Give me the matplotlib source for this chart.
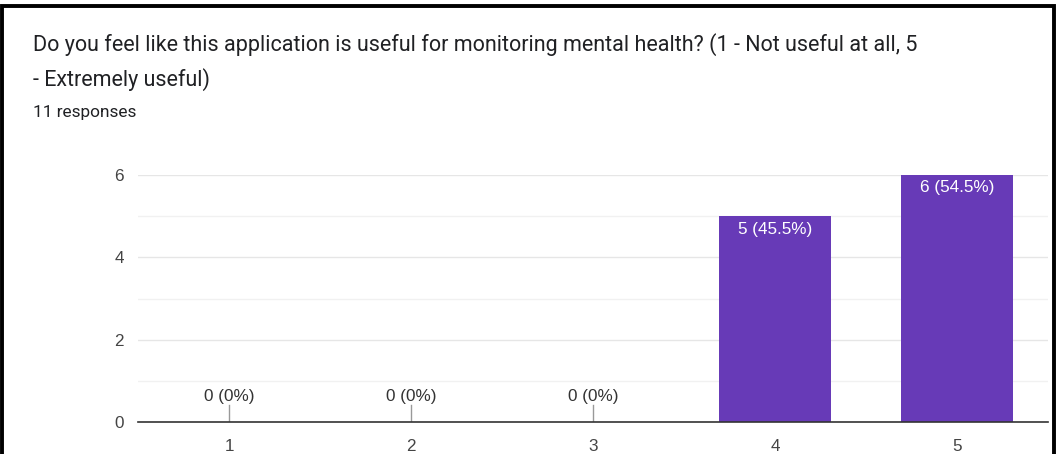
import matplotlib.pyplot as plt

plt.rcParams['font.family'] = ['Roboto', 'DejaVu Sans']

title = ("Do you feel like this application is useful for monitoring mental health? (1 - Not useful at all, 5\n"
         "- Extremely useful)")
subtitle = "11 responses"

ratings = ["1", "2", "3", "4", "5"]
counts = [0, 0, 0, 5, 6]
labels = ["0 (0%)", "0 (0%)", "0 (0%)", "5 (45.5%)", "6 (54.5%)"]

fig = plt.figure(figsize=(10.57, 4.54), dpi=100)
W, H = 1057, 454
chart_font = ['Liberation Sans', 'DejaVu Sans']

# outer frame
fig.patches.append(plt.Rectangle((2 / W, -0.01), (W - 5) / W, 1 - 1.5 / H,
                                 transform=fig.transFigure, fill=False,
                                 edgecolor='black', linewidth=2.8))

fig.text(33 / W, 1 - 45 / H, title.split("\n")[0], fontsize=15.5, color='#202124',
         va='center', ha='left')
fig.text(33 / W, 1 - 80 / H, title.split("\n")[1], fontsize=15.5, color='#202124',
         va='center', ha='left')
fig.text(33 / W, 1 - 113 / H, subtitle, fontsize=12.4, color='#202124',
         va='center', ha='left')

ax = fig.add_axes([138 / W, 1 - 422 / H, (1048 - 138) / W, (422 - 175) / H])
x = list(range(1, len(ratings) + 1))
ax.bar(x, counts, width=0.62, color='#673AB7', zorder=3)

ax.set_xlim(0.5, 5.5)
ax.set_ylim(0, 6)
ax.set_yticks([0, 2, 4, 6])
ax.set_yticks([1, 3, 5], minor=True)
ax.set_xticks(x)
ax.set_xticklabels(ratings)
for lab in ax.get_xticklabels() + ax.get_yticklabels():
    lab.set_family(chart_font)
ax.grid(axis='y', which='major', color='#e6e6e6', linewidth=1, zorder=0)
ax.grid(axis='y', which='minor', color='#f1f1f1', linewidth=1, zorder=0)
ax.tick_params(axis='both', which='both', length=0, labelsize=12.3, labelcolor='#444444')
ax.tick_params(axis='x', pad=12)
ax.tick_params(axis='y', pad=10)
for side in ['top', 'right', 'left']:
    ax.spines[side].set_visible(False)
ax.spines['bottom'].set_color('#333333')
ax.spines['bottom'].set_linewidth(1.2)
ax.spines['bottom'].set_zorder(4)

for xi, c, lab in zip(x, counts, labels):
    if c == 0:
        ax.plot([xi, xi], [0, 0.41], color='#999999', linewidth=1, zorder=4)
        ax.text(xi, 0.44, lab, ha='center', va='bottom', fontsize=12.3,
                color='#333333', family=chart_font)
    else:
        ax.text(xi, c - 0.13, lab, ha='center', va='top', fontsize=12.3,
                color='white', zorder=5, family=chart_font)

fig.savefig('out.png', dpi=100)
